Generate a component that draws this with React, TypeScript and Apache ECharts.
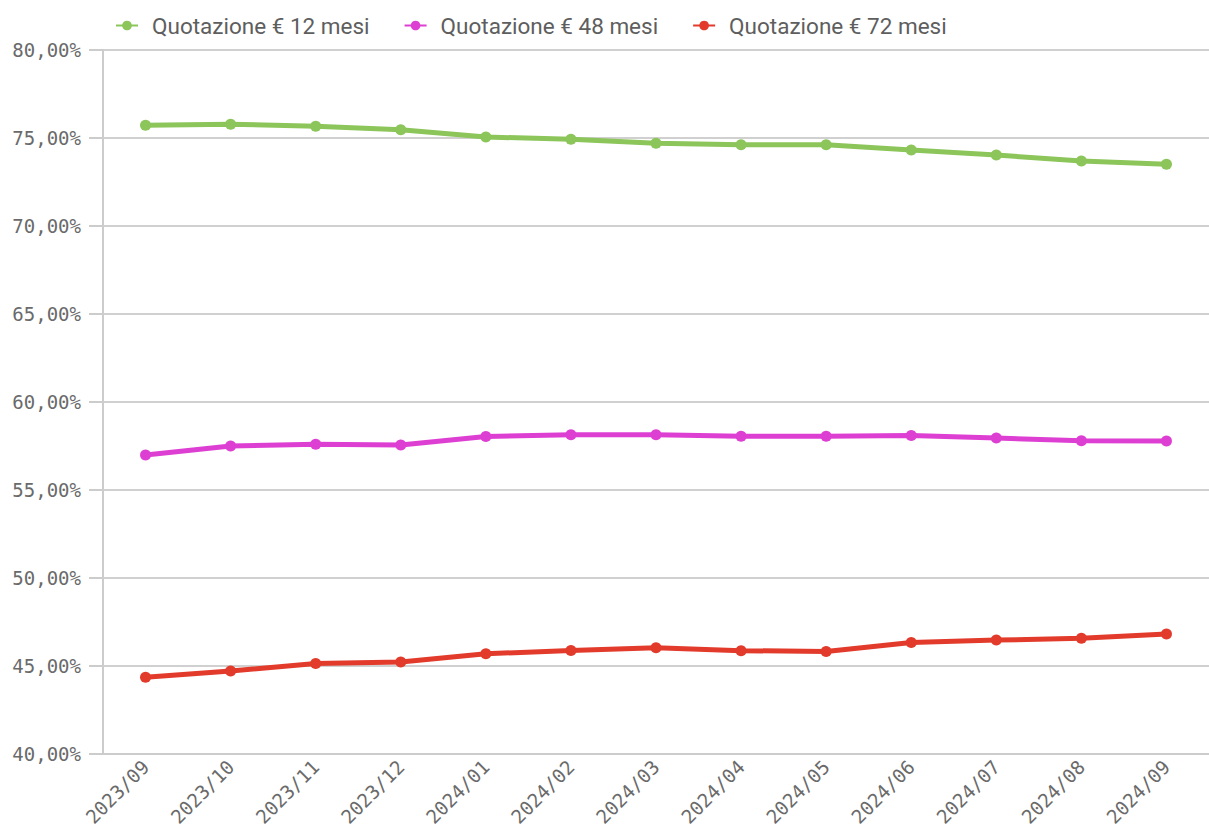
import React, { useEffect, useRef } from "react";
import * as echarts from "echarts";

const categories = ["2023/09","2023/10","2023/11","2023/12","2024/01","2024/02","2024/03","2024/04","2024/05","2024/06","2024/07","2024/08","2024/09"];
const seriesNames = ["Quotazione € 12 mesi", "Quotazione € 48 mesi", "Quotazione € 72 mesi"];
const q12 = [75.72, 75.78, 75.66, 75.47, 75.05, 74.93, 74.70, 74.61, 74.61, 74.31, 74.03, 73.69, 73.50];
const q48 = [56.97, 57.48, 57.58, 57.54, 58.02, 58.13, 58.13, 58.04, 58.04, 58.08, 57.94, 57.78, 57.77];
const q72 = [44.34, 44.69, 45.12, 45.21, 45.67, 45.86, 46.02, 45.85, 45.80, 46.31, 46.45, 46.55, 46.80];
const colors = ["#8cc55a", "#de3fd3", "#e23b2b"];

export default function App() {
  const ref = useRef<HTMLDivElement>(null);
  useEffect(() => {
    const chart = echarts.init(ref.current!, null, { renderer: "svg" });
    const mono = "DejaVu Sans Mono";
    chart.setOption({
      animation: false,
      backgroundColor: "#ffffff",
      color: colors,
      legend: {
        left: 110,
        top: 9,
        itemWidth: 22,
        itemHeight: 12,
        itemGap: 34,
        textStyle: { fontFamily: "Roboto", fontSize: 22.5, color: "#5e5e5e", padding: [0, 0, 0, 9] },
        data: seriesNames,
      },
      grid: { left: 103, top: 50, width: 1116, height: 707, containLabel: false },
      xAxis: {
        type: "category",
        data: categories,
        boundaryGap: true,
        axisLine: { show: true, lineStyle: { color: "#cccccc", width: 2 } },
        axisTick: { show: false },
        axisLabel: { rotate: 45, fontFamily: mono, fontSize: 19, color: "#6a6a6a", margin: 10 },
      },
      yAxis: {
        type: "value",
        min: 40,
        max: 80,
        interval: 5,
        axisLine: { show: true, lineStyle: { color: "#cccccc", width: 2 } },
        axisTick: { show: true, length: 14, lineStyle: { color: "#cccccc", width: 2 } },
        splitLine: { show: true, lineStyle: { color: "#d0d0d0", width: 2 } },
        axisLabel: {
          fontFamily: mono,
          fontSize: 19,
          color: "#6a6a6a",
          margin: 22,
          formatter: (v: number) => v.toFixed(2).replace(".", ",") + "%",
        },
      },
      series: [q12, q48, q72].map((d, i) => ({
        name: seriesNames[i],
        type: "line",
        data: d,
        symbol: "circle",
        symbolSize: 11,
        lineStyle: { width: 5, color: colors[i] },
        itemStyle: { color: colors[i] },
      })),
    });
    return () => chart.dispose();
  }, []);
  return (
    <div
      ref={ref}
      style={{ position: "fixed", left: 0, top: 0, width: 1209, height: 829 }}
    />
  );
}
